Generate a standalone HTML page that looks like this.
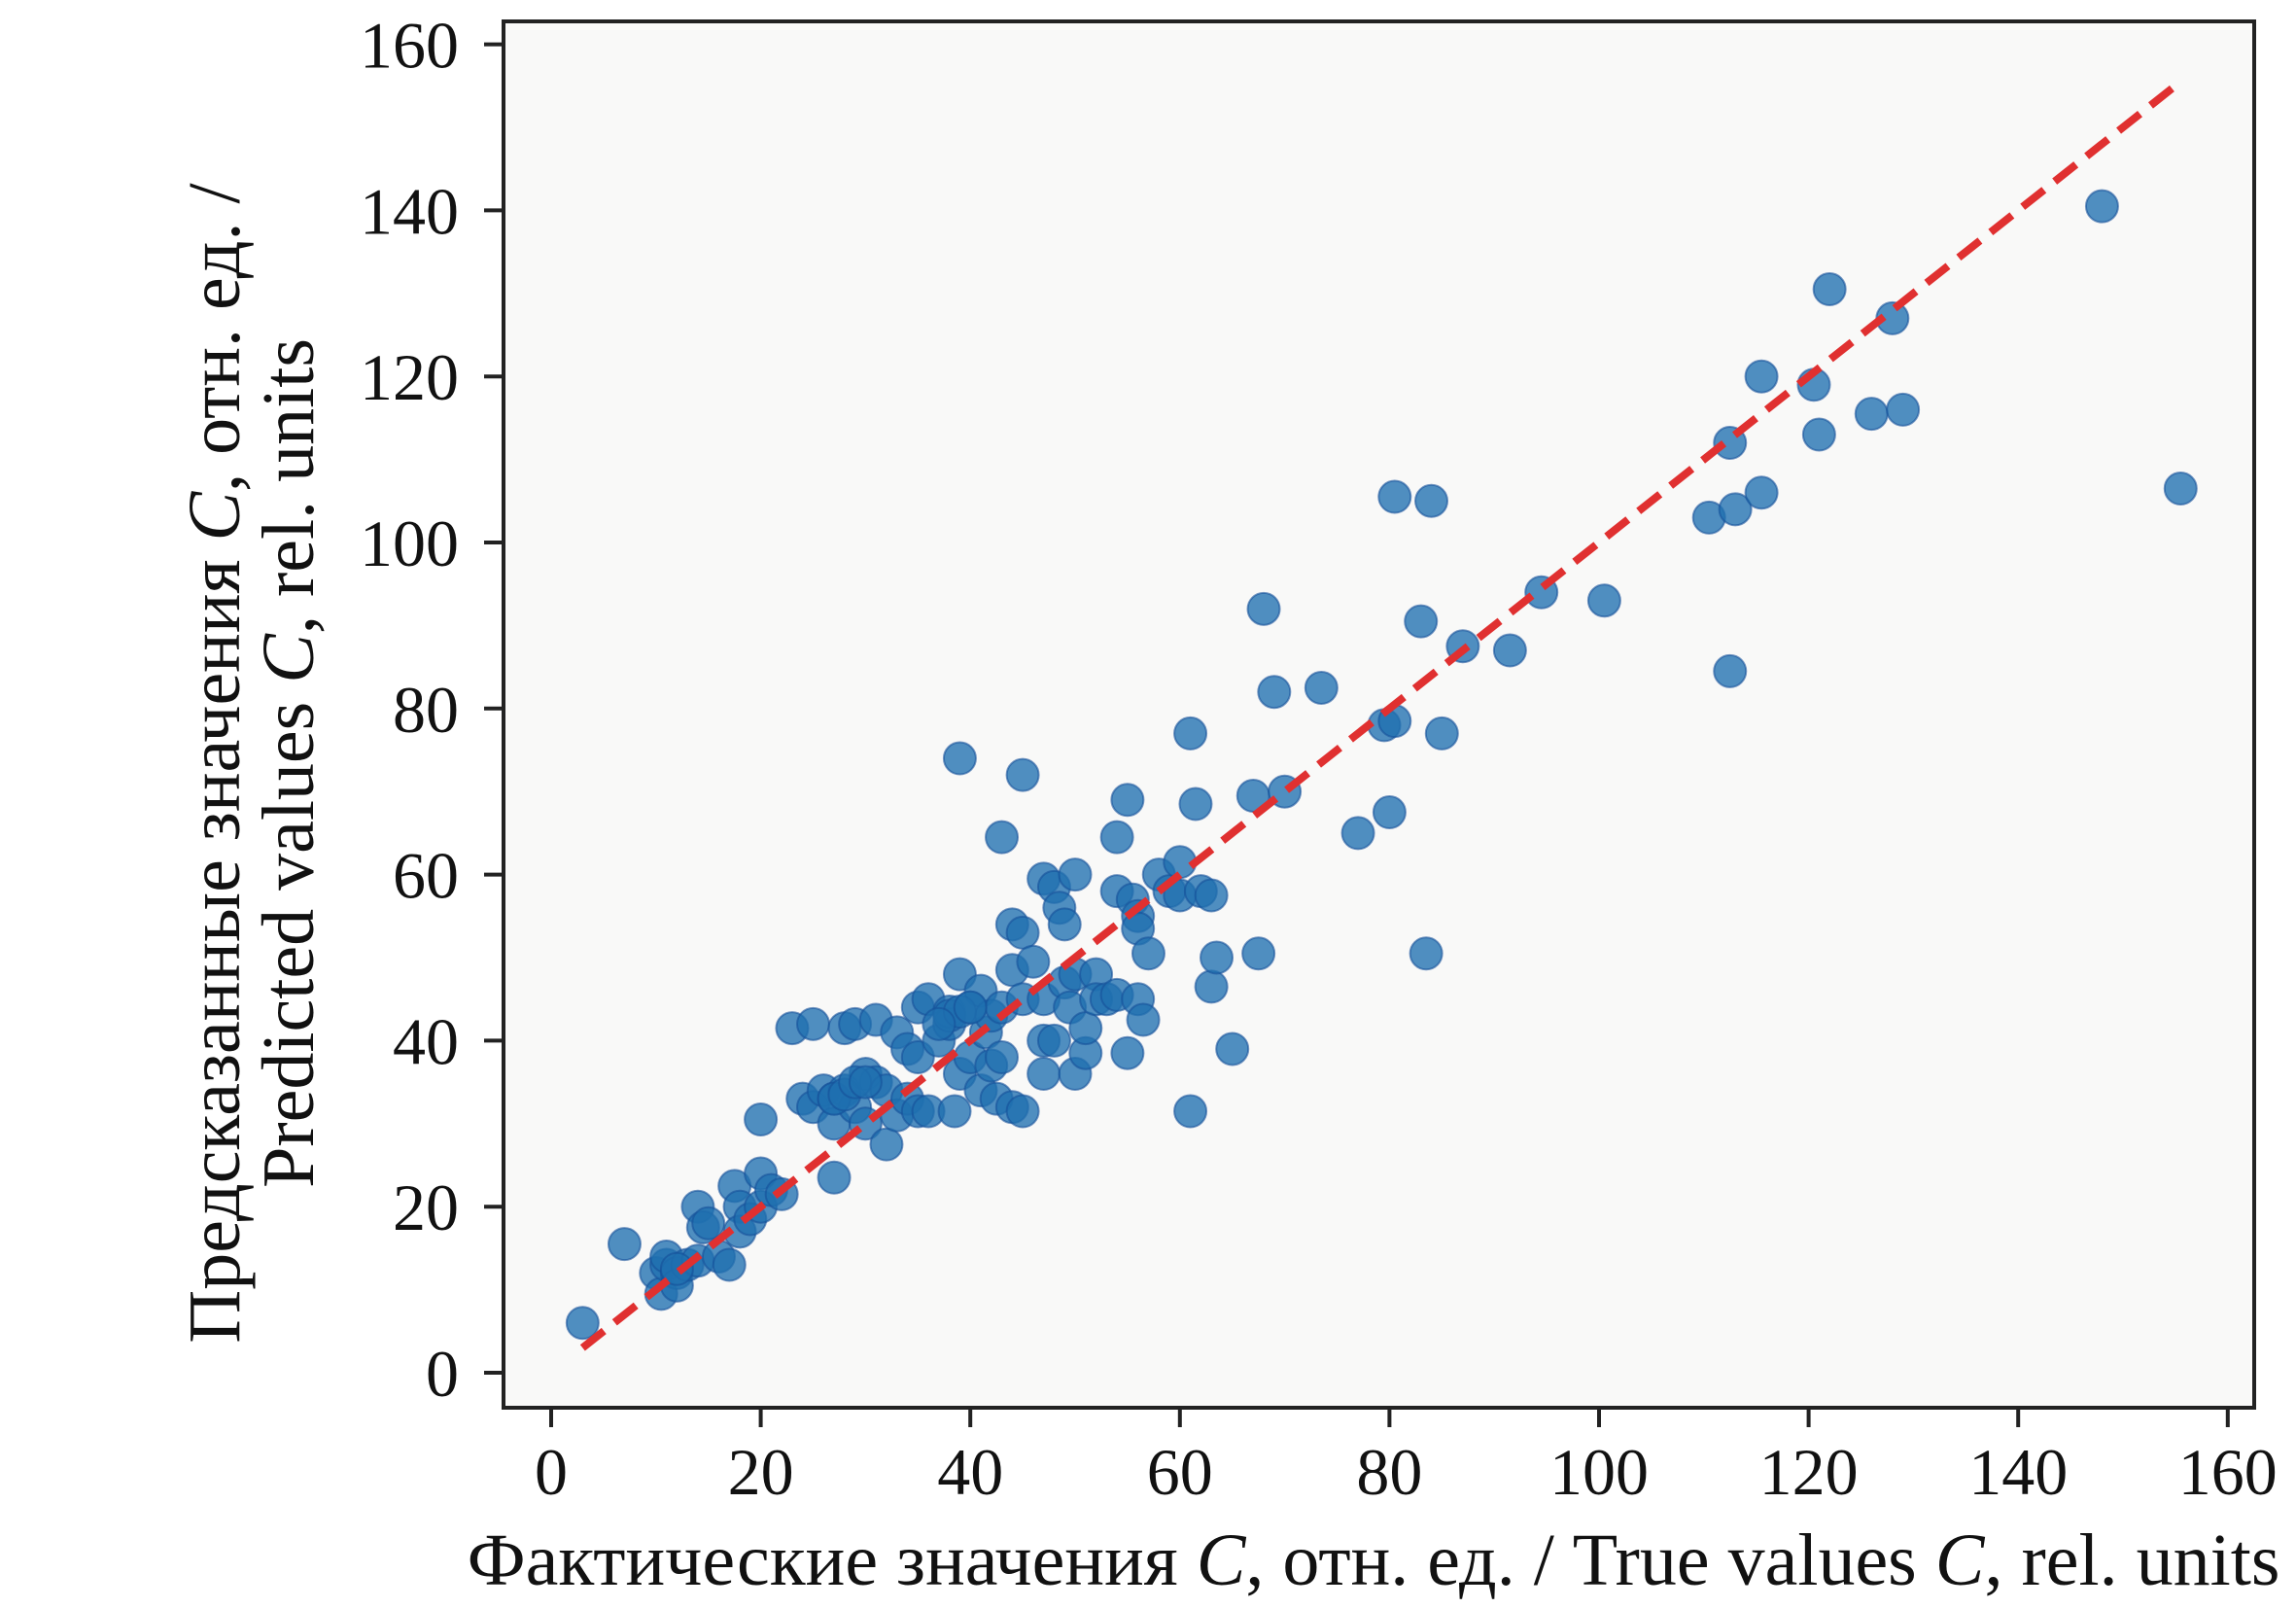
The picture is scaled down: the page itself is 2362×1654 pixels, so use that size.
<!DOCTYPE html>
<html><head><meta charset="utf-8"><style>
html,body{margin:0;padding:0;background:#fff;}
svg{display:block;font-family:"Liberation Serif",serif;}
</style></head><body>
<svg id="chart" width="2362" height="1654" viewBox="0 0 2362 1654">
<rect x="0" y="0" width="2362" height="1654" fill="#fff"/>
<rect x="518" y="22" width="1801" height="1426" fill="#f9f9f8"/>
<g id="marks"></g>
<rect x="518" y="22" width="1801" height="1426" fill="none" stroke="#222" stroke-width="4"/>
<g id="axes"></g>
<text x="1413" y="1630" font-size="76" text-anchor="middle" fill="#111">Фактические значения <tspan font-style="italic">C</tspan>, отн. ед.  / True values <tspan font-style="italic">C</tspan>, rel. units</text>
<g transform="translate(280,785) rotate(-90)">
<text x="0" y="-34" font-size="76" text-anchor="middle" fill="#111">Предсказанные значения <tspan font-style="italic">C</tspan>, отн. ед. /</text>
<text x="0" y="42" font-size="76" text-anchor="middle" fill="#111">Predicted values <tspan font-style="italic">C</tspan>, rel. units</text>
</g>
</svg>
<script>
const trueValues=[3,7,10,10.5,11,11,12,12,13,14,14,14.5,15,16,17,17.5,18,18,19,20,20,20,21,22,23,24,25,25,26,27,27,27,28,28,29,29,30,30,31,31,32,32,33,33,34,34,35,35,35,36,36,37,38,38,38.5,39,39,39,40,40,41,41,41.5,42,42,42.5,43,43,43,44,44,44,45,45,45,45,46,47,47,47,47,48,48,48.5,49,49,49.5,50,50,50,51,51,52,52,53,54,54,54,55,55,55.5,56,56,56,56.5,57,58,59,60,60,61,61,61.5,62,63,63,63.5,65,67,67.5,68,69,70,73.5,77,79.5,80,80.5,80.5,83,83.5,84,85,87,91.5,94.5,100.5,110.5,112.5,112.5,113,115.5,115.5,120.5,121,122,126,128,129,148,155.5,27,28,29,30,38,39,40,37,12];
const predValues=[6,15.5,12,9.5,13,14,12,10.5,13,13.5,20,17.5,18,14,13,22.5,20,17,18.5,24,30.5,20,22,21.5,41.5,33,42,32,34,23.5,33,30,41.5,34,42,32,30,36,42.5,35,34,27.5,41,31,39,33,31.5,44,38,45,31.5,40,42,43.5,31.5,48,36,74,44,38,34,46,41,43,37,33,64.5,44,38,54,48.5,32,72,53,45,31.5,49.5,59.5,40,36,45,58.5,40,56,54,47,44,60,36,48,38.5,41.5,48,45,45,64.5,58,45.5,69,38.5,57,55,45,53.5,42.5,50.5,60,58,61.5,57.5,31.5,77,68.5,58,57.5,46.5,50,39,69.5,50.5,92,82,70,82.5,65,78,67.5,105.5,78.5,90.5,50.5,105,77,87.5,87,94,93,103,112,84.5,104,120,106,119,113,130.5,115.5,127,116,140.5,106.5,33,33.5,35,35,43,43.5,44,42,12.5];
const fitLine=[3,155.5];
const xTicks=[0,20,40,60,80,100,120,140,160];
const yTicks=[0,20,40,60,80,100,120,140,160];
const NS="http://www.w3.org/2000/svg";
function sx(v){return 567+v*10.78;}
function sy(v){return 1412-v*8.54;}
const marks=document.getElementById('marks');
for(let i=0;i<trueValues.length;i++){
  const c=document.createElementNS(NS,'circle');
  c.setAttribute('cx',sx(trueValues[i]));c.setAttribute('cy',sy(predValues[i]));
  c.setAttribute('r',16.5);c.setAttribute('fill','#1f6fb0');c.setAttribute('fill-opacity','0.78');
  c.setAttribute('stroke','#15509a');c.setAttribute('stroke-width','2');c.setAttribute('stroke-opacity','0.6');
  
  
  marks.appendChild(c);
}
const ln=document.createElementNS(NS,'line');
ln.setAttribute('x1',sx(fitLine[0]));ln.setAttribute('y1',sy(fitLine[0]));
ln.setAttribute('x2',sx(fitLine[1]));ln.setAttribute('y2',sy(fitLine[1]));
ln.setAttribute('stroke','#e03030');ln.setAttribute('stroke-width','8');ln.setAttribute('stroke-dasharray','28 14');


marks.appendChild(ln);
const axes=document.getElementById('axes');
xTicks.forEach(t=>{
  const l=document.createElementNS(NS,'line');
  l.setAttribute('x1',sx(t));l.setAttribute('x2',sx(t));l.setAttribute('y1',1448);l.setAttribute('y2',1468);
  l.setAttribute('stroke','#222');l.setAttribute('stroke-width','4');
  
  
  axes.appendChild(l);
  const tx=document.createElementNS(NS,'text');
  tx.setAttribute('x',sx(t));tx.setAttribute('y',1537);tx.setAttribute('font-size','68');tx.setAttribute('text-anchor','middle');tx.setAttribute('fill','#111');
  tx.textContent=t;
  
  
  axes.appendChild(tx);
});
yTicks.forEach(t=>{
  const l=document.createElementNS(NS,'line');
  l.setAttribute('x1',498);l.setAttribute('x2',518);l.setAttribute('y1',sy(t));l.setAttribute('y2',sy(t));
  l.setAttribute('stroke','#222');l.setAttribute('stroke-width','4');
  
  
  axes.appendChild(l);
  const tx=document.createElementNS(NS,'text');
  tx.setAttribute('x',472);tx.setAttribute('y',sy(t)+24);tx.setAttribute('font-size','68');tx.setAttribute('text-anchor','end');tx.setAttribute('fill','#111');
  tx.textContent=t;
  
  
  axes.appendChild(tx);
});
</script>
</body></html>
